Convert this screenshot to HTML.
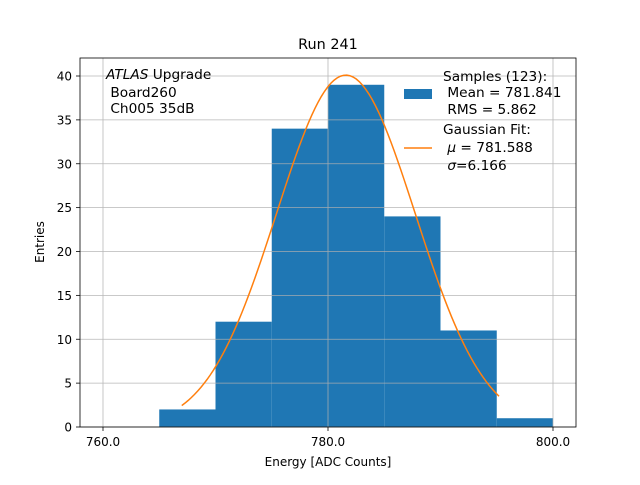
<!DOCTYPE html>
<html><head><meta charset="utf-8"><style>
body{margin:0;background:#fff;}
svg text{font-family:"DejaVu Sans","Liberation Sans",sans-serif;white-space:pre;}
</style></head><body>
<svg id="chart" width="640" height="480" xmlns="http://www.w3.org/2000/svg">
<rect width="640" height="480" fill="#fff"/>
<text x="328" y="49" font-size="14.4" text-anchor="middle">Run 241</text>
<g id="grid"></g>
<g id="bars"></g>
<g id="fit"></g>
<g id="axes"></g>
<rect x="80" y="58" width="496" height="369" fill="none" stroke="#000" stroke-width="0.8"/>
<text x="328" y="466" font-size="12" text-anchor="middle">Energy [ADC Counts]</text>
<text transform="translate(44,242) rotate(-90)" font-size="12" text-anchor="middle">Entries</text>
<g font-size="13.7">
<text x="106" y="79"><tspan font-style="italic">ATLAS</tspan> Upgrade</text>
<text x="106" y="97">&#160;Board260</text>
<text x="106" y="113">&#160;Ch005 35dB</text>
</g>
<g font-size="13.7">
<text x="443" y="81">Samples (123):</text>
<rect x="404" y="89" width="28" height="10" fill="#1f77b4"/>
<text x="443" y="97">&#160;Mean = 781.841</text>
<text x="443" y="114">&#160;RMS = 5.862</text>
<text x="443" y="134">Gaussian Fit:</text>
<line x1="404" y1="148" x2="432" y2="148" stroke="#ff7f0e" stroke-width="1.5"/>
<text x="443" y="152">&#160;<tspan font-style="italic">μ</tspan> = 781.588</text>
<text x="443" y="170">&#160;<tspan font-style="italic">σ</tspan>=6.166</text>
</g>
</svg>
<script>
const binEdges=[765,770,775,780,785,790,795,800];
const counts=[2,12,34,39,24,11,1];
const xTicks=[760,780,800];
const yTicks=[0,5,10,15,20,25,30,35,40];
const fitParams=[781.588,6.166,40.1];
const fitRange=[767.0,795.2];
const NS="http://www.w3.org/2000/svg";
const X=v=>103+(v-760)*11.25;
const Y=v=>427-v*8.775;
function mk(t,a,p){const e=document.createElementNS(NS,t);for(const k in a)e.setAttribute(k,a[k]);p.appendChild(e);return e;}
const grid=document.getElementById('grid'),bars=document.getElementById('bars'),fit=document.getElementById('fit'),axes=document.getElementById('axes');
xTicks.forEach(t=>{
 const g=mk('line',{x1:X(t),x2:X(t),y1:58,y2:427,stroke:'#b0b0b0','stroke-width':0.8},grid);
 
 
 mk('line',{x1:X(t),x2:X(t),y1:427,y2:431,stroke:'#000','stroke-width':0.8},axes);
 const l=mk('text',{x:X(t),y:446,'font-size':12,'text-anchor':'middle'},axes);
 l.textContent=t.toFixed(1);
 
 
});
yTicks.forEach(t=>{
 const g=mk('line',{x1:80,x2:576,y1:Y(t),y2:Y(t),stroke:'#b0b0b0','stroke-width':0.8},grid);
 
 
 mk('line',{x1:76,x2:80,y1:Y(t),y2:Y(t),stroke:'#000','stroke-width':0.8},axes);
 const l=mk('text',{x:72,y:Y(t)+4.5,'font-size':12,'text-anchor':'end'},axes);
 l.textContent=t;
 
 
});
counts.forEach((c,i)=>{
 const r=mk('rect',{x:X(binEdges[i]),y:Y(c),width:X(binEdges[i+1])-X(binEdges[i]),height:Y(0)-Y(c),fill:'#1f77b4'},bars);
 
 
});
grid.parentNode.insertBefore(grid,fit);
grid.setAttribute('opacity','0.9');
let pts=[];const [mu,sg,A]=fitParams;
for(let i=0;i<=100;i++){const x=fitRange[0]+(fitRange[1]-fitRange[0])*i/100;pts.push(X(x).toFixed(2)+','+Y(A*Math.exp(-0.5*((x-mu)/sg)**2)).toFixed(2));}
const p=mk('polyline',{points:pts.join(' '),fill:'none',stroke:'#ff7f0e','stroke-width':1.5},fit);


</script>
</body></html>
